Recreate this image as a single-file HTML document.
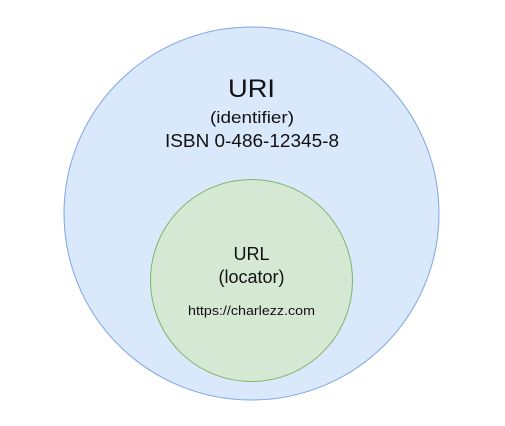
<!DOCTYPE html>
<html><head><meta charset="utf-8"><style>html,body{margin:0;padding:0;background:#fff;}svg{display:block}</style></head>
<body>
<svg width="505" height="426" viewBox="0 0 505 426" xmlns="http://www.w3.org/2000/svg" font-family="Liberation Sans, Arial, sans-serif" fill="#111">
<ellipse cx="251.5" cy="213.5" rx="187.5" ry="186.5" fill="#dae8fc" stroke="#7ea6e0" stroke-width="1"/>
<circle cx="251.5" cy="280.5" r="101" fill="#d5e8d4" stroke="#82b366" stroke-width="1"/>
<text x="251.5" y="97" font-size="25" text-anchor="middle" textLength="47" lengthAdjust="spacingAndGlyphs">URI</text>
<text x="252" y="123" font-size="17" text-anchor="middle" textLength="84" lengthAdjust="spacingAndGlyphs">(identifier)</text>
<text x="252" y="147" font-size="18" text-anchor="middle" textLength="174" lengthAdjust="spacingAndGlyphs">ISBN 0-486-12345-8</text>
<text x="251.5" y="260" font-size="18" text-anchor="middle">URL</text>
<text x="251.5" y="283" font-size="18" text-anchor="middle">(locator)</text>
<text x="251.5" y="315" font-size="12.5" text-anchor="middle" textLength="127" lengthAdjust="spacingAndGlyphs">https://charlezz.com</text>
</svg>
</body></html>
